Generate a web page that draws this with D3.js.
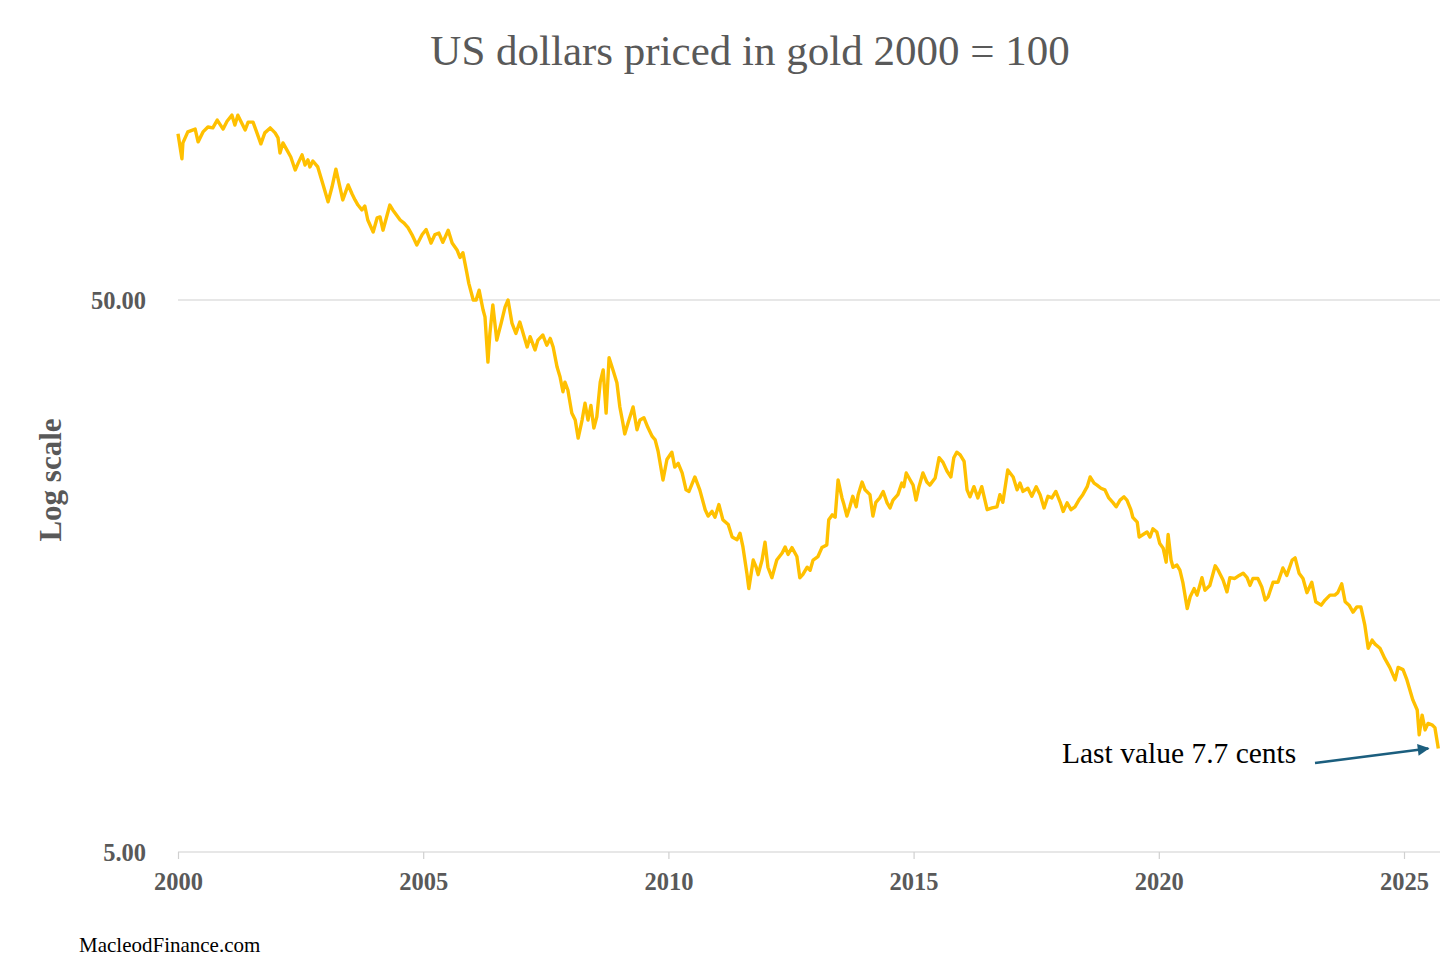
<!DOCTYPE html>
<html>
<head>
<meta charset="utf-8">
<script src="https://cdn.jsdelivr.net/npm/d3@7"></script>
<style>
  body { margin: 0; background: #fff; }
  text { font-family: "Liberation Serif", "DejaVu Serif", serif; }
</style>
</head>
<body>
<div id="chart-area"></div>
<script>
// dates (decimal years) and value of 1 USD in gold, 2000 = 100
const dates = [
  2000.00, 2000.08, 2000.10, 2000.20, 2000.35, 2000.41, 2000.51, 2000.61, 2000.71, 2000.80,
  2000.92, 2001.00, 2001.10, 2001.16, 2001.22, 2001.37, 2001.43, 2001.53, 2001.61, 2001.69,
  2001.77, 2001.88, 2001.98, 2002.04, 2002.08, 2002.14, 2002.22, 2002.30, 2002.39, 2002.45,
  2002.53, 2002.59, 2002.65, 2002.69, 2002.75, 2002.85, 2002.96, 2003.06, 2003.14, 2003.22,
  2003.36, 2003.47, 2003.55, 2003.61, 2003.67, 2003.75, 2003.81, 2003.87, 2003.98, 2004.06,
  2004.12, 2004.18, 2004.32, 2004.38, 2004.53, 2004.61, 2004.69, 2004.77, 2004.87, 2004.98,
  2005.06, 2005.16, 2005.24, 2005.32, 2005.40, 2005.51, 2005.59, 2005.69, 2005.75, 2005.81,
  2005.89, 2005.93, 2006.02, 2006.08, 2006.14, 2006.22, 2006.26, 2006.32, 2006.36, 2006.42,
  2006.50, 2006.59, 2006.67, 2006.73, 2006.81, 2006.89, 2006.97, 2007.12, 2007.18, 2007.28,
  2007.34, 2007.44, 2007.52, 2007.59, 2007.65, 2007.73, 2007.79, 2007.85, 2007.89, 2007.95,
  2008.03, 2008.10, 2008.16, 2008.24, 2008.30, 2008.36, 2008.42, 2008.48, 2008.54, 2008.61,
  2008.67, 2008.73, 2008.79, 2008.87, 2008.95, 2009.01, 2009.07, 2009.11, 2009.18, 2009.28,
  2009.36, 2009.42, 2009.50, 2009.58, 2009.67, 2009.73, 2009.79, 2009.89, 2009.97, 2010.07,
  2010.13, 2010.20, 2010.28, 2010.36, 2010.42, 2010.54, 2010.64, 2010.75, 2010.81, 2010.89,
  2010.95, 2011.03, 2011.11, 2011.22, 2011.30, 2011.40, 2011.46, 2011.52, 2011.60, 2011.64,
  2011.73, 2011.79, 2011.83, 2011.91, 2011.97, 2012.03, 2012.11, 2012.21, 2012.32, 2012.38,
  2012.44, 2012.52, 2012.62, 2012.68, 2012.74, 2012.83, 2012.89, 2012.95, 2013.05, 2013.13,
  2013.23, 2013.27, 2013.34, 2013.40, 2013.46, 2013.54, 2013.58, 2013.64, 2013.70, 2013.76,
  2013.83, 2013.87, 2013.95, 2014.01, 2014.11, 2014.17, 2014.23, 2014.31, 2014.38, 2014.46,
  2014.52, 2014.58, 2014.68, 2014.76, 2014.80, 2014.85, 2014.93, 2014.99, 2015.05, 2015.11,
  2015.19, 2015.27, 2015.33, 2015.44, 2015.52, 2015.60, 2015.68, 2015.76, 2015.82, 2015.88,
  2015.95, 2016.03, 2016.09, 2016.15, 2016.23, 2016.31, 2016.39, 2016.50, 2016.60, 2016.70,
  2016.76, 2016.82, 2016.92, 2017.03, 2017.11, 2017.17, 2017.23, 2017.33, 2017.41, 2017.50,
  2017.58, 2017.66, 2017.74, 2017.82, 2017.90, 2017.99, 2018.05, 2018.13, 2018.21, 2018.29,
  2018.37, 2018.45, 2018.54, 2018.60, 2018.68, 2018.74, 2018.82, 2018.90, 2018.98, 2019.07,
  2019.13, 2019.21, 2019.29, 2019.35, 2019.43, 2019.47, 2019.56, 2019.60, 2019.68, 2019.76,
  2019.82, 2019.88, 2019.96, 2020.02, 2020.09, 2020.15, 2020.19, 2020.25, 2020.29, 2020.37,
  2020.43, 2020.49, 2020.58, 2020.64, 2020.72, 2020.78, 2020.88, 2020.94, 2021.04, 2021.15,
  2021.21, 2021.31, 2021.39, 2021.45, 2021.55, 2021.64, 2021.72, 2021.80, 2021.86, 2021.92,
  2022.02, 2022.10, 2022.17, 2022.23, 2022.33, 2022.43, 2022.53, 2022.61, 2022.72, 2022.78,
  2022.86, 2022.94, 2023.02, 2023.12, 2023.20, 2023.31, 2023.39, 2023.49, 2023.59, 2023.65,
  2023.73, 2023.80, 2023.88, 2023.96, 2024.04, 2024.12, 2024.20, 2024.27, 2024.35, 2024.41,
  2024.51, 2024.61, 2024.71, 2024.82, 2024.88, 2024.98, 2025.06, 2025.12, 2025.18, 2025.27,
  2025.31, 2025.37, 2025.43, 2025.49, 2025.57, 2025.63, 2025.70
];

const values = [
  100.0, 90.1, 96.3, 100.8, 102.0, 96.7, 100.8, 102.9, 102.5, 105.9,
  102.0, 105.4, 108.1, 103.7, 108.1, 101.6, 105.0, 105.0, 100.4, 95.9,
  100.4, 102.5, 100.4, 98.3, 92.3, 96.3, 93.5, 90.8, 86.0, 88.5,
  91.6, 87.8, 89.7, 87.1, 89.3, 87.1, 80.8, 75.3, 80.1, 86.3,
  75.9, 80.8, 77.8, 75.9, 74.3, 72.8, 74.0, 69.8, 66.4, 70.4,
  70.7, 66.9, 74.3, 72.8, 69.8, 68.9, 67.6, 65.7, 62.9, 65.7,
  67.1, 63.4, 65.7, 66.1, 63.6, 66.9, 63.4, 61.6, 59.7, 60.9,
  56.0, 53.6, 50.0, 50.0, 52.1, 48.0, 46.6, 38.6, 43.5, 49.0,
  42.3, 45.4, 48.6, 50.0, 45.4, 43.5, 45.6, 41.1, 42.9, 40.6,
  42.3, 43.2, 41.4, 42.6, 41.1, 37.8, 36.3, 34.1, 35.5, 34.35,
  31.2, 30.3, 28.1, 30.3, 32.5, 30.3, 32.2, 29.3, 30.7, 35.5,
  37.35, 31.2, 39.3, 37.35, 35.4, 32.0, 30.0, 28.6, 30.0, 32.0,
  29.1, 30.3, 30.6, 29.4, 28.3, 27.9, 26.6, 23.6, 25.7, 26.5,
  24.9, 25.3, 24.3, 22.65, 22.5, 23.9, 22.65, 20.85, 20.3, 20.7,
  20.2, 21.3, 20.0, 19.6, 18.6, 18.4, 18.9, 17.85, 16.0, 15.0,
  16.9, 16.4, 15.9, 16.9, 18.2, 16.4, 15.7, 16.9, 17.4, 17.85,
  17.3, 17.8, 17.15, 15.7, 15.9, 16.4, 16.2, 16.9, 17.15, 17.8,
  18.0, 20.0, 20.4, 20.2, 23.6, 21.9, 21.3, 20.3, 21.1, 22.05,
  21.1, 22.2, 23.4, 22.65, 22.2, 20.3, 21.5, 21.9, 22.5, 21.45,
  21.0, 21.7, 22.2, 23.3, 22.95, 24.3, 23.6, 23.1, 21.7, 22.95,
  24.3, 23.4, 23.1, 23.8, 25.9, 25.4, 24.5, 23.9, 25.9, 26.5,
  26.2, 25.5, 22.65, 22.0, 22.95, 21.9, 22.95, 20.85, 21.0, 21.1,
  22.2, 21.5, 24.6, 23.9, 22.65, 23.3, 22.5, 22.8, 22.05, 22.95,
  22.2, 21.0, 22.05, 21.9, 22.5, 21.5, 20.7, 21.45, 20.85, 21.1,
  21.7, 22.2, 22.95, 23.9, 23.3, 23.1, 22.8, 22.65, 21.9, 21.45,
  21.1, 21.7, 22.0, 21.7, 20.85, 20.2, 19.8, 18.6, 18.8, 19.0,
  18.6, 19.25, 19.0, 18.1, 17.75, 16.75, 18.8, 16.9, 16.4, 16.55,
  16.2, 15.4, 13.8, 14.5, 15.0, 14.6, 15.7, 14.9, 15.2, 16.5,
  16.2, 15.55, 14.8, 15.7, 15.65, 15.85, 16.0, 15.7, 15.2, 15.65,
  15.65, 15.1, 14.3, 14.5, 15.4, 15.4, 16.35, 15.85, 16.9, 17.05,
  16.0, 15.65, 14.75, 15.4, 14.2, 14.0, 14.3, 14.6, 14.6, 14.75,
  15.3, 14.2, 14.0, 13.6, 13.9, 13.9, 12.9, 11.7, 12.1, 11.9,
  11.7, 11.2, 10.8, 10.25, 10.8, 10.7, 10.25, 9.83, 9.43, 9.04,
  8.15, 8.85, 8.32, 8.55, 8.5, 8.4, 7.7
];

const xTicks = [2000, 2005, 2010, 2015, 2020, 2025];
const yTicks = [5, 50];
const lastValueNote = 'Last value 7.7 cents';

const W = 1456, H = 972;

const svg = d3.select('#chart-area').append('svg')
    .attr('width', W)
    .attr('height', H);

// scales
const x = d3.scaleLinear()
    .domain([2000, 2025])
    .range([178, 1404]);

const y = d3.scaleLog()
    .domain([5, 50])
    .range([852, 300]);

const plotRight = 1440;

// gridline at 50 (and the axis line at 5)
svg.append('g')
    .selectAll('line')
    .data(yTicks)
    .enter().append('line')
    .attr('x1', x(2000))
    .attr('x2', plotRight)
    .attr('y1', d => y(d))
    .attr('y2', d => y(d))
    .attr('stroke', '#d0d0d0')
    .attr('stroke-width', 1.2);

// y tick labels
svg.append('g')
    .selectAll('text')
    .data(yTicks)
    .enter().append('text')
    .attr('x', 146)
    .attr('y', d => y(d))
    .attr('dy', '0.35em')
    .attr('text-anchor', 'end')
    .attr('font-size', '24.5px')
    .attr('font-weight', 700)
    .attr('fill', '#595959')
    .text(d => d3.format('.2f')(d));

// x axis
const xAxisCall = d3.axisBottom(x)
    .tickValues(xTicks)
    .tickFormat(d3.format('d'))
    .tickSize(7)
    .tickPadding(14);

const xAxisGroup = svg.append('g')
    .attr('class', 'x axis')
    .attr('transform', 'translate(0,' + y(5) + ')')
    .call(xAxisCall);

xAxisGroup.select('.domain').remove();
xAxisGroup.selectAll('line').attr('stroke', '#d0d0d0').attr('stroke-width', 1.2);
xAxisGroup.selectAll('text')
    .attr('font-family', '"Liberation Serif", serif')
    .attr('font-size', '24.5px')
    .attr('font-weight', 700)
    .attr('fill', '#595959');

// the line
const line = d3.line()
    .x((d, i) => x(dates[i]))
    .y(d => y(d));

svg.append('path')
    .datum(values)
    .attr('fill', 'none')
    .attr('stroke', '#FFC000')
    .attr('stroke-width', 3.4)
    .attr('stroke-linejoin', 'round')
    .attr('d', line);

// title
svg.append('text')
    .attr('x', 750)
    .attr('y', 65)
    .attr('text-anchor', 'middle')
    .attr('font-size', '43px')
    .attr('fill', '#595959')
    .text('US dollars priced in gold 2000 = 100');

// y axis label
svg.append('text')
    .attr('transform', 'translate(61,480) rotate(-90)')
    .attr('text-anchor', 'middle')
    .attr('font-size', '31px')
    .attr('font-weight', 700)
    .attr('fill', '#595959')
    .text('Log scale');

// source
svg.append('text')
    .attr('x', 79)
    .attr('y', 952)
    .attr('font-size', '21px')
    .attr('fill', '#000')
    .text('MacleodFinance.com');

// annotation with arrow to the last point
const defs = svg.append('defs');
defs.append('marker')
    .attr('id', 'arrow')
    .attr('viewBox', '0 0 10 10')
    .attr('refX', 9)
    .attr('refY', 5)
    .attr('markerWidth', 5.5)
    .attr('markerHeight', 4.5)
    .attr('orient', 'auto')
    .append('path')
    .attr('d', 'M0,0 L10,5 L0,10 z')
    .attr('fill', '#1b5e7e');

const lastDate = dates[dates.length - 1];
const lastVal = values[values.length - 1];

svg.append('line')
    .attr('x1', 1315)
    .attr('y1', 763)
    .attr('x2', x(lastDate) - 10)
    .attr('y2', y(lastVal))
    .attr('stroke', '#1b5e7e')
    .attr('stroke-width', 2.6)
    .attr('marker-end', 'url(#arrow)');

svg.append('text')
    .attr('x', 1062)
    .attr('y', 763)
    .attr('font-size', '29.5px')
    .attr('fill', '#000')
    .text(lastValueNote);
</script>
</body>
</html>
